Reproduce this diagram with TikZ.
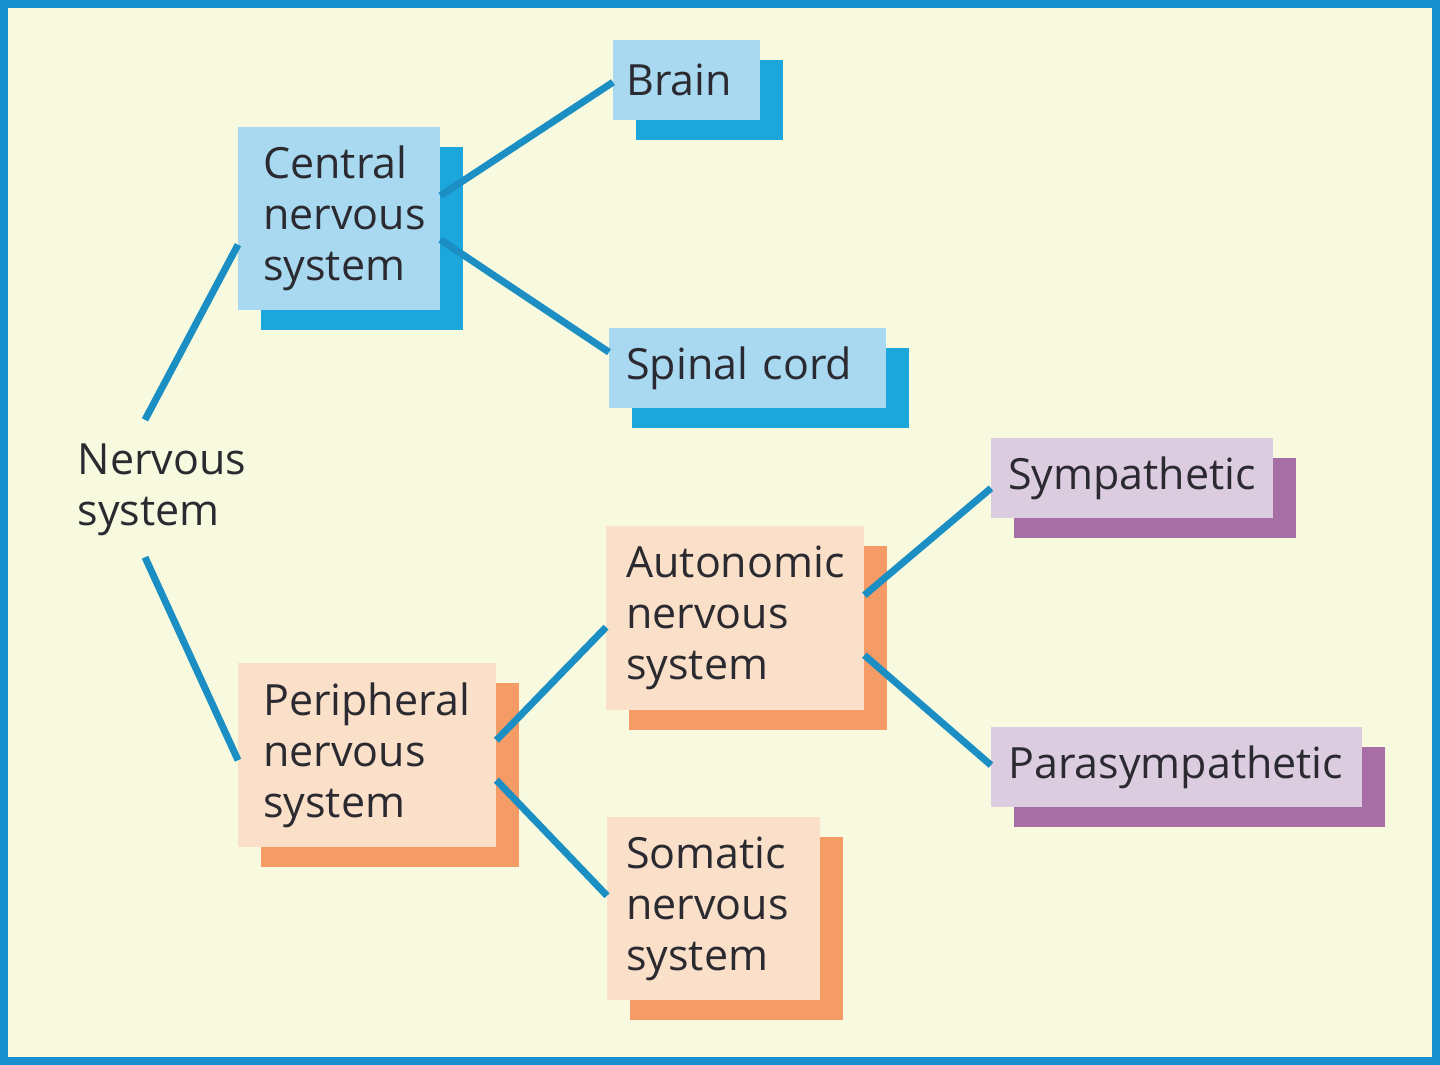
\documentclass[tikz,border=0pt]{standalone}
\usepackage{fontspec}
\setmainfont{Open Sans}
\usetikzlibrary{shadows}
\definecolor{bg}{HTML}{F7FADF}
\definecolor{frame}{HTML}{1790CD}
\definecolor{conncol}{HTML}{1B8FC4}
\definecolor{bluefront}{HTML}{A9D9F1}
\definecolor{blueshadow}{HTML}{1BA6DC}
\definecolor{peachfront}{HTML}{FADFC9}
\definecolor{peachshadow}{HTML}{F59B65}
\definecolor{lavfront}{HTML}{DCCCE0}
\definecolor{lavshadow}{HTML}{A86FA6}
\definecolor{txt}{HTML}{2A2A30}
\tikzset{
  boxbase/.style={anchor=north west, rectangle, inner ysep=0pt, align=left,
    text=txt, font=\fontsize{43}{51}\selectfont},
  bluebox/.style={boxbase, fill=bluefront,
    general shadow={fill=blueshadow, shadow xshift=23pt, shadow yshift=-20pt}},
  peachbox/.style={boxbase, fill=peachfront,
    general shadow={fill=peachshadow, shadow xshift=23pt, shadow yshift=-20pt}},
  lavbox/.style={boxbase, fill=lavfront,
    general shadow={fill=lavshadow, shadow xshift=23pt, shadow yshift=-20pt}},
  conn/.style={draw=conncol, line width=7pt},
}
\begin{document}
\begin{tikzpicture}[x=1pt,y=-1pt]
\useasboundingbox (0,0) rectangle (1440,1065);
\fill[bg] (0,0) rectangle (1440,1065);
\draw[frame, line width=8pt] (4,4) rectangle (1436,1061);

\node[bluebox, minimum width=202pt, minimum height=183pt, inner xsep=25pt, text width=152pt] (cns) at (238,127) {Central\\nervous\\system};
\node[bluebox, minimum width=147pt, minimum height=80pt, inner xsep=13pt, text width=121pt] (brain) at (613,40) {Brain};
\node[bluebox, minimum width=277pt, minimum height=80pt, inner xsep=17pt, text width=243pt] (spinal) at (609,328) {Spinal cord};
\node[peachbox, minimum width=258pt, minimum height=184pt, inner xsep=25pt, text width=208pt] (pns) at (238,663) {Peripheral\\nervous\\system};
\node[peachbox, minimum width=258pt, minimum height=184pt, inner xsep=20pt, text width=218pt] (ans) at (606,526) {Autonomic\\nervous\\system};
\node[peachbox, minimum width=213pt, minimum height=183pt, inner xsep=19pt, text width=175pt] (sns) at (607,817) {Somatic\\nervous\\system};
\node[lavbox, minimum width=282pt, minimum height=80pt, inner xsep=17pt, text width=248pt] (symp) at (991,438) {Sympathetic};
\node[lavbox, minimum width=371pt, minimum height=80pt, inner xsep=17pt, text width=337pt] (para) at (991,727) {Parasympathetic};

\node[align=left, inner sep=0pt, text=txt, font=\fontsize{43}{51}\selectfont] (ns) at (162,490) {Nervous\\system};

\draw[conn] ([xshift=-17pt,yshift=24pt]ns.north) -- ([yshift=-26pt]cns.west);
\draw[conn] ([xshift=-17pt,yshift=-21pt]ns.south) -- ([yshift=-5pt]pns.west);
\draw[conn] ([yshift=23pt]cns.east) -- ([yshift=-2pt]brain.west);
\draw[conn] ([yshift=-21pt]cns.east) -- ([yshift=16pt]spinal.west);
\draw[conn] ([yshift=15pt]pns.east) -- ([yshift=-9pt]ans.west);
\draw[conn] ([yshift=-25pt]pns.east) -- ([yshift=13pt]sns.west);
\draw[conn] ([yshift=23pt]ans.east) -- ([yshift=-10pt]symp.west);
\draw[conn] ([yshift=-37pt]ans.east) -- ([yshift=2pt]para.west);
\end{tikzpicture}
\end{document}
